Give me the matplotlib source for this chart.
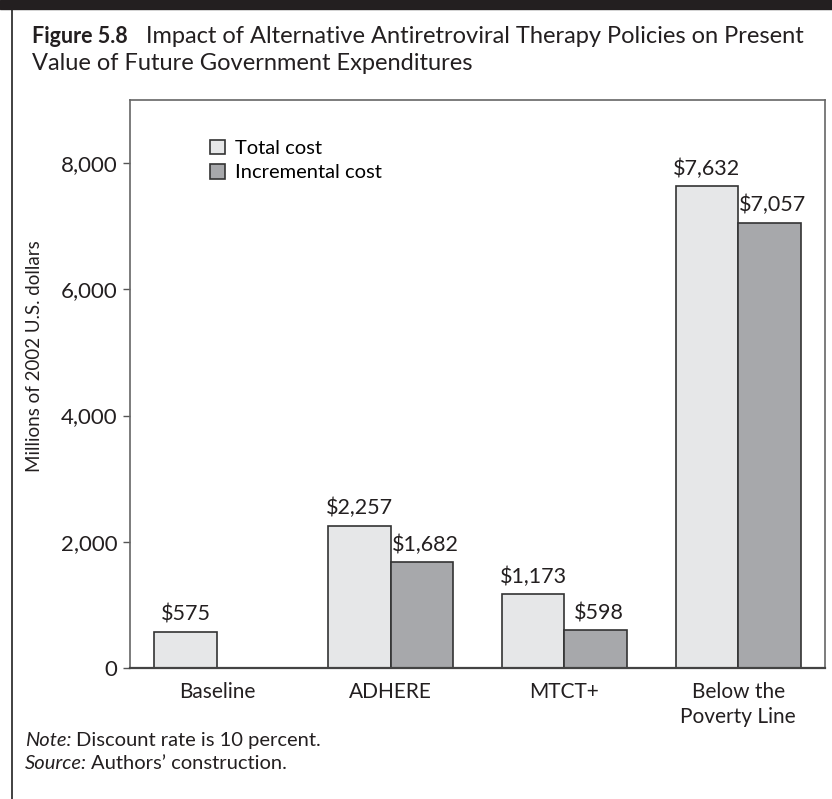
import matplotlib
matplotlib.use("Agg")
import matplotlib.pyplot as plt
import numpy as np
from matplotlib.lines import Line2D
from matplotlib.patches import Rectangle

plt.rcParams['font.family'] = ['Lato', 'DejaVu Sans']

# data
categories = ['Baseline', 'ADHERE', 'MTCT+', 'Below the\nPoverty Line']
total_cost = [575, 2257, 1173, 7632]
incremental_cost = [None, 1682, 598, 7057]
yticks = [0, 2000, 4000, 6000, 8000]

light = '#e6e7e8'
dark = '#a7a8ab'
edge = '#333333'
ink = '#231f20'

W, H = 832, 799
fig = plt.figure(figsize=(W / 100, H / 100), dpi=100)

def fx(px):
    return px / W

def fy(py):
    return 1 - py / H

# outer frame: thick top bar and thin left rule
fig.patches.append(Rectangle((0, fy(9)), 1, 9 / H, transform=fig.transFigure,
                             color=ink, zorder=5))
fig.lines.append(Line2D([fx(12), fx(12)], [0, fy(9)], transform=fig.transFigure,
                        color='#333333', lw=1.3))

# title
fig.text(fx(32), fy(43), 'Figure 5.8', fontsize=15.5, fontweight='bold',
         va='baseline', ha='left', color=ink)
fig.text(fx(146), fy(43), 'Impact of Alternative Antiretroviral Therapy Policies on Present',
         fontsize=17, va='baseline', ha='left', color=ink)
fig.text(fx(32), fy(70), 'Value of Future Government Expenditures',
         fontsize=17, va='baseline', ha='left', color=ink)

ax = fig.add_axes([fx(130), fy(668), fx(825) - fx(130), fy(100) - fy(668)])

x = np.arange(len(categories))
w = 0.36
tot = ax.bar(x - w / 2, total_cost, w, color=light, edgecolor=edge, lw=1.2,
             label='Total cost')
inc_x = [xi + w / 2 for xi, v in zip(x, incremental_cost) if v is not None]
inc_v = [v for v in incremental_cost if v is not None]
inc = ax.bar(inc_x, inc_v, w, color=dark, edgecolor=edge, lw=1.2,
             label='Incremental cost')

for xi, v in zip(x - w / 2, total_cost):
    ax.text(xi, v + 175, f'${v:,}', ha='center', va='baseline', fontsize=15.5,
            color=ink)
for xi, v in zip(inc_x, inc_v):
    ax.text(xi + 0.02, v + 175, f'${v:,}', ha='center', va='baseline',
            fontsize=15.5, color=ink)

ax.set_xlim(-0.5, 3.5)
ax.set_ylim(0, 9000)
ax.set_yticks(yticks)
ax.set_yticklabels([f'{t:,}' for t in yticks])
ax.set_xticks(x)
ax.set_xticklabels(categories, linespacing=1.3)
ax.tick_params(axis='y', length=5, width=1, color='#555555', labelsize=16,
               pad=4, labelcolor=ink)
ax.tick_params(axis='x', length=0, labelsize=15, pad=10, labelcolor=ink)
for s in ax.spines.values():
    s.set_color('#666666')
    s.set_linewidth(1.2)
ax.spines['bottom'].set_color('#444444')
ax.spines['bottom'].set_linewidth(1.6)

fig.text(fx(35), fy(356), 'Millions of 2002 U.S. dollars', rotation=90,
         ha='center', va='center', fontsize=13.5, color=ink)

ax.legend(handles=[tot, inc], loc='upper left',
          bbox_to_anchor=(fx(210), fy(140)), bbox_transform=fig.transFigure,
          frameon=False, fontsize=14.5, handlelength=0.72, handleheight=0.72,
          handletextpad=0.5, labelspacing=0.35, borderpad=0, borderaxespad=0)

# footnotes: italic lead-in followed by regular text
renderer = fig.canvas.get_renderer()
for lead, rest, base in [('Note:', 'Discount rate is 10 percent.', 746),
                         ('Source:', 'Authors\u2019 construction.', 769)]:
    t = fig.text(fx(25), fy(base), lead, fontsize=14.5, style='italic',
                 va='baseline', color=ink)
    bb = t.get_window_extent(renderer)
    fig.text(bb.x1 / W + fx(4), fy(base), rest, fontsize=14.5,
             va='baseline', color=ink)

fig.savefig('out.png', dpi=100)
